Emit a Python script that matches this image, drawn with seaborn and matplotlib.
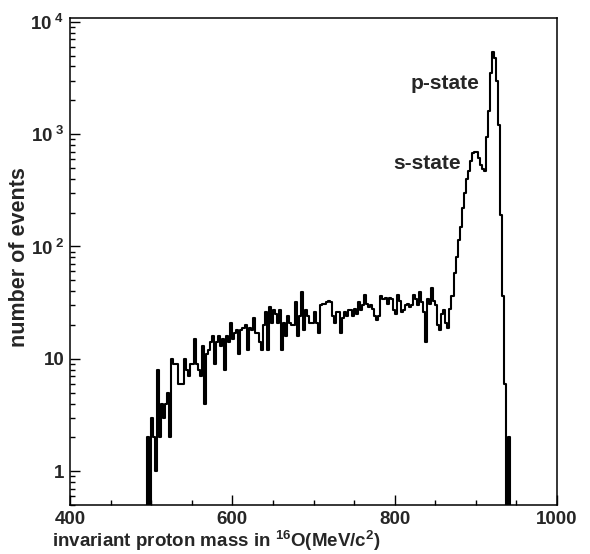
import numpy as np
import pandas as pd
import matplotlib
matplotlib.use("Agg")
import matplotlib.pyplot as plt
from matplotlib.ticker import FixedLocator, FixedFormatter, MultipleLocator, LogLocator, NullFormatter
import seaborn as sns

# ---------------- data ----------------
bin_start = 492.5      # MeV, lower edge of first bin
bin_width = 2.5        # MeV

# low-mass tail (492.5 .. 522.5)
counts_tail = [0, 2, 0, 3, 2, 1, 8, 2, 4, 3, 4, 5, 2]
# continuum (525 .. 872.5)
counts_continuum = [
    10, 9, 9, 6, 6, 6, 10, 8, 7, 9,
    9, 15, 9, 8, 7, 13, 4, 11, 12, 14,
    16, 9, 14, 16, 13, 15, 8, 16, 14, 21,
    15, 17, 18, 11, 18, 19, 20, 12, 19, 18,
    23, 17, 17, 14, 12, 20, 26, 12, 29, 21,
    27, 25, 21, 27, 12, 21, 16, 24, 21, 20,
    20, 32, 16, 24, 39, 18, 27, 24, 21, 21,
    26, 21, 17, 30, 31, 31, 32, 33, 32, 24,
    21, 26, 26, 17, 23, 26, 24, 27, 27, 24,
    28, 25, 32, 27, 30, 37, 31, 29, 30, 28,
    24, 22, 24, 36, 34, 35, 31, 35, 34, 27,
    25, 37, 33, 26, 27, 30, 31, 29, 30, 37,
    34, 30, 39, 32, 26, 14, 34, 31, 43, 33,
    30, 20, 18, 25, 27, 21, 19, 28, 36, 58,
]
# s-state and p-state peaks (875 .. 942.5)
counts_peaks = [
    80, 115, 150, 220, 300, 400, 470, 580, 680, 700,
    690, 610, 530, 490, 465, 950, 1600, 3500, 5350, 4800,
    3000, 1200, 190, 36, 6, 0, 2, 0,
]

counts = np.array(counts_tail + counts_continuum + counts_peaks, dtype=float)
n_bins = len(counts)
edges = bin_start + bin_width * np.arange(n_bins + 1)
centers = 0.5 * (edges[:-1] + edges[1:])
df = pd.DataFrame({"mass": centers, "events": counts})

xticks_major = [400, 600, 800, 1000]
xtick_labels = ["400", "600", "800", "1000"]
yticks_major = [1, 10, 100, 1000, 10000]
ytick_labels = ["1", "10", r"$\mathbf{10}^{\ \mathbf{2}}$", r"$\mathbf{10}^{\ \mathbf{3}}$",
                r"$\mathbf{10}^{\ \mathbf{4}}$"]

annotations = [("p-state", 904.0, 2800.0), ("s-state", 881.5, 545.0)]

# ---------------- style ----------------
sns.set_style("ticks")
plt.rcParams["font.family"] = ["Liberation Sans", "DejaVu Sans"]
plt.rcParams["font.weight"] = "bold"
plt.rcParams["mathtext.fontset"] = "custom"
plt.rcParams["mathtext.rm"] = "Liberation Sans:bold"
plt.rcParams["mathtext.bf"] = "Liberation Sans:bold"
plt.rcParams["mathtext.it"] = "Liberation Sans:bold"

fig = plt.figure(figsize=(5.9, 5.54), dpi=100)
ax = fig.add_axes([70 / 590, 49 / 554, 487 / 590, 487 / 554])

sns.histplot(data=df, x="mass", weights="events", bins=n_bins,
             binrange=(float(edges[0]), float(edges[-1])), element="step",
             fill=False, color="black", linewidth=1.5, ax=ax)

ax.set_yscale("log", nonpositive="clip")
ax.set_xlim(400, 1000)
ax.set_ylim(0.5, 1.08e4)

for s in ax.spines.values():
    s.set_linewidth(1.1)
    s.set_color("black")

ax.xaxis.set_major_locator(FixedLocator(xticks_major))
ax.xaxis.set_major_formatter(FixedFormatter(xtick_labels))
ax.xaxis.set_minor_locator(MultipleLocator(50))
ax.yaxis.set_major_locator(FixedLocator(yticks_major))
ax.yaxis.set_major_formatter(FixedFormatter(ytick_labels))
ax.yaxis.set_minor_locator(LogLocator(base=10, subs=np.arange(2, 10)))
ax.yaxis.set_minor_formatter(NullFormatter())

ax.tick_params(axis="both", which="both", direction="in", top=False, right=False,
               color="black", width=1.0)
ax.tick_params(axis="both", which="major", length=7.2, labelsize=13.5)
ax.tick_params(axis="both", which="minor", length=3.6)
ax.tick_params(axis="x", which="major", pad=4)
ax.tick_params(axis="y", which="major", pad=4)
for lab in ax.get_xticklabels() + ax.get_yticklabels():
    lab.set_fontweight("bold")

ax.set_xlabel(r"invariant proton mass in $^{\mathbf{16}}$O(MeV/c$^{\mathbf{2}}$)",
              fontsize=13.5, fontweight="bold", ha="left")
ax.xaxis.set_label_coords(-0.036, -0.049)
ax.set_ylabel("number of events", fontsize=15.5, fontweight="bold")
ax.yaxis.set_label_coords(-0.083, 0.51)

for txt, xv, yv in annotations:
    ax.text(xv, yv, txt, ha="right", va="center", fontsize=15, fontweight="bold")

fig.savefig("out.png", dpi=100, facecolor="white")
